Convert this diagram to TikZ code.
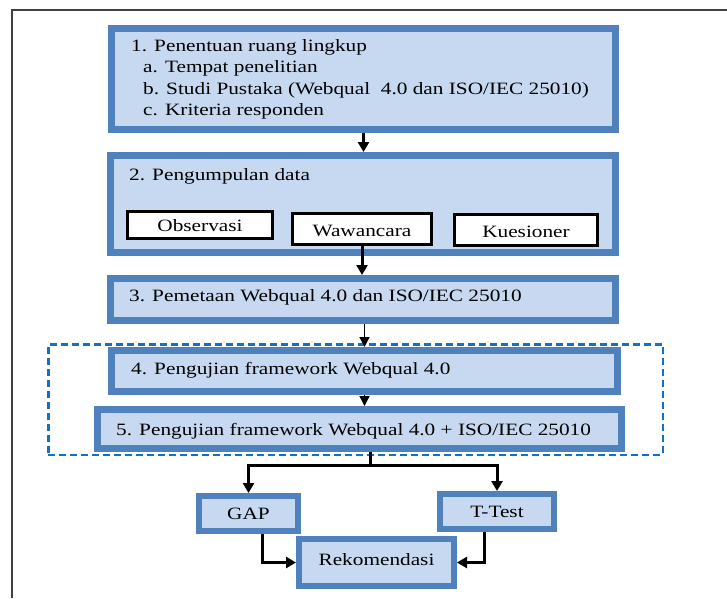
\documentclass[tikz,border=0pt]{standalone}
\usepackage{fontspec}
\usepackage{graphicx}
\setmainfont{Liberation Serif}
\usetikzlibrary{arrows.meta}
\definecolor{bordblue}{HTML}{4F81BD}
\definecolor{fillblue}{HTML}{C6D9F1}
\definecolor{dashblue}{HTML}{0F72C4}
\newcommand{\wtxt}[1]{\scalebox{1.23}[1]{#1}}
\tikzset{
  bluebox/.style={draw=bordblue, fill=fillblue, line width=7pt, inner sep=0pt},
  smallbox/.style={draw=bordblue, fill=fillblue, line width=6pt, inner sep=0pt},
  subbox/.style={draw=black, fill=white, line width=3pt, inner sep=0pt},
  dashbox/.style={draw=dashblue, line width=2.5pt, dash pattern=on 7pt off 4pt, inner sep=0pt},
  lbl/.style={inner sep=0pt, anchor=west, font=\fontsize{17.3}{21}\selectfont},
  clbl/.style={inner sep=0pt, font=\fontsize{17.3}{21}\selectfont},
  thk/.style={line width=3pt, -{Triangle[length=10pt,width=11pt]}},
  thn/.style={line width=1.3pt, -{Triangle[length=10pt,width=10pt]}},
  thkline/.style={line width=3pt},
}
\begin{document}
\begin{tikzpicture}[x=1pt,y=-1pt]
\useasboundingbox (0,0) rectangle (727,598);
\fill[white] (0,0) rectangle (727,598);
% frame
\draw[line width=2pt, black!75] (12,598) -- (12,10) -- (727,10);
% dashed group
\node[dashbox, minimum width=614.5pt, minimum height=110.5pt] (grp) at (355.5,399.5) {};
% boxes
\node[bluebox, minimum width=504pt, minimum height=101pt] (b1) at (363.5,79) {};
\node[bluebox, minimum width=505pt, minimum height=97pt] (b2) at (363,204) {};
\node[bluebox, minimum width=505pt, minimum height=42pt] (b3) at (363,299.5) {};
\node[bluebox, minimum width=506pt, minimum height=41pt] (b4) at (364.5,371) {};
\node[bluebox, minimum width=524pt, minimum height=39pt] (b5) at (359.5,429) {};
\node[smallbox, minimum width=99pt, minimum height=35pt] (gap) at (248.5,513.5) {};
\node[smallbox, minimum width=114pt, minimum height=35pt] (tt) at (497,511.5) {};
\node[smallbox, minimum width=155pt, minimum height=47pt] (rek) at (376.5,562.5) {};
% sub boxes
\node[subbox, minimum width=145pt, minimum height=27pt] (obs) at (200,225) {};
\node[subbox, minimum width=139pt, minimum height=31pt] (ww) at (362,229) {};
\node[subbox, minimum width=143pt, minimum height=31pt] (ku) at (526,230) {};
% texts
\node[lbl] (t1) at (131,47) {\wtxt{1. Penentuan ruang lingkup}};
\node[lbl] (t1a) at (143,68) {\wtxt{a. Tempat penelitian}};
\node[lbl] (t1b) at (143,90) {\wtxt{b. Studi Pustaka (Webqual\ \ 4.0 dan ISO/IEC 25010)}};
\node[lbl] (t1c) at (143,111) {\wtxt{c. Kriteria responden}};
\node[lbl] (t2) at (129,176) {\wtxt{2. Pengumpulan data}};
\node[clbl] at ([yshift=-1pt]obs.center) {\wtxt{Observasi}};
\node[clbl] at ([yshift=-2pt]ww.center) {\wtxt{Wawancara}};
\node[clbl] at ([yshift=-2pt]ku.center) {\wtxt{Kuesioner}};
\node[lbl] (t3) at (129,297) {\wtxt{3. Pemetaan Webqual 4.0 dan ISO/IEC 25010}};
\node[lbl] (t4) at (131,370) {\wtxt{4. Pengujian framework Webqual 4.0}};
\node[lbl] (t5) at (116,431) {\wtxt{5. Pengujian framework Webqual 4.0 + ISO/IEC 25010}};
\node[clbl] at (gap.center) {\wtxt{GAP}};
\node[clbl] at (tt.center) {\wtxt{T-Test}};
\node[clbl] at ([yshift=3pt]rek.center) {\wtxt{Rekomendasi}};
% connectors
\draw[thk] (b1.south) -- (b1.south |- b2.north);
\draw[thk] (ww.south) -- (ww.south |- b3.north);
\draw[thn] (b4.north |- b3.south) -- (b4.north);
\draw[thn] (b4.south) -- (b4.south |- b5.north);
\coordinate (j) at (370,465);
\draw[thkline] (b5.south -| j) -- (j);
\draw[thk] (j) -| (gap.north);
\draw[thk] (j) -| (tt.north);
\draw[thk] ([xshift=13.5pt]gap.south) |- (rek.west);
\draw[thk] ([xshift=-13pt]tt.south) |- (rek.east);
\end{tikzpicture}
\end{document}
